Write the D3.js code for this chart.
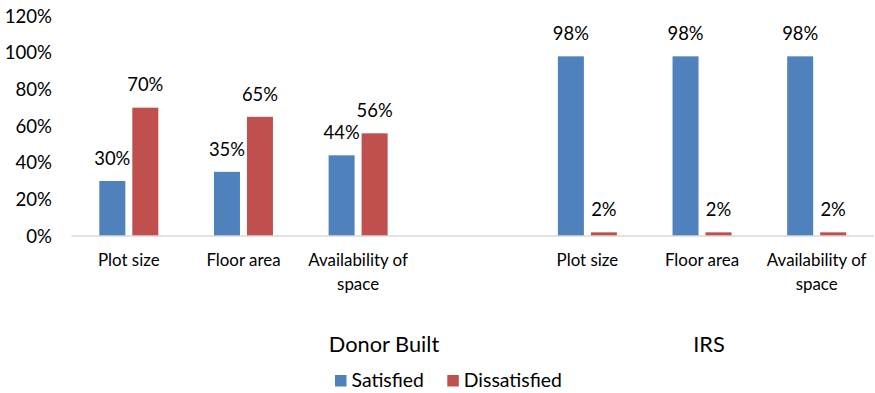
<!DOCTYPE html>
<html>
<head>
<meta charset="utf-8">
<script src="https://cdn.jsdelivr.net/npm/d3@7"></script>
<style>
  html, body { margin: 0; padding: 0; background: #fff; }
  svg { display: block; font-family: Lato, "Liberation Sans", Arial, sans-serif; }
</style>
</head>
<body>
<svg id="chart" width="875" height="393"></svg>
<script>
// Category slots along the x axis (an empty slot separates the two groups)
const categories = ["db-plot", "db-floor", "db-space", "gap", "irs-plot", "irs-floor", "irs-space"];
const categoryLabels = [["Plot size"], ["Floor area"], ["Availability of", "space"], [], ["Plot size"], ["Floor area"], ["Availability of", "space"]];
const groups = ["Donor Built", "IRS"];
const seriesNames = ["Satisfied", "Dissatisfied"];
const seriesColors = ["#4F81BD", "#C0504D"];
const satisfied = [30, 35, 44, null, 98, 98, 98];
const dissatisfied = [70, 65, 56, null, 2, 2, 2];
const yTicks = [0, 20, 40, 60, 80, 100, 120];

const svg = d3.select("#chart");

const x = d3.scaleBand().domain(categories).range([71.5, 874]);
const inner = d3.scaleBand().domain(seriesNames).range([0, x.bandwidth()])
  .paddingInner(0.212).paddingOuter(0.843);
const y = d3.scaleLinear().domain([0, 120]).range([236, 16]);

// y axis tick labels
svg.append("g").selectAll("text").data(yTicks).join("text")
  .attr("x", 52).attr("y", d => y(d)).attr("dy", "0.36em")
  .attr("text-anchor", "end").attr("font-size", 18.6).attr("fill", "#000")
  .text(d => d + "%");

// bars + value labels
const series = [satisfied, dissatisfied];
series.forEach((vals, si) => {
  const pts = categories.map((c, i) => ({ c, v: vals[i] })).filter(d => d.v != null);
  const g = svg.append("g");
  g.selectAll("rect").data(pts).join("rect")
    .attr("x", d => x(d.c) + inner(seriesNames[si]))
    .attr("width", inner.bandwidth())
    .attr("y", d => y(d.v))
    .attr("height", d => y(0) - y(d.v))
    .attr("fill", seriesColors[si]);
  g.selectAll("text").data(pts).join("text")
    .attr("x", d => x(d.c) + inner(seriesNames[si]) + inner.bandwidth() / 2)
    .attr("y", d => y(d.v) - 16.3)
    .attr("text-anchor", "middle").attr("font-size", 18.4).attr("fill", "#000")
    .text(d => d.v + "%");
});

// category axis baseline
svg.append("line")
  .attr("x1", x.range()[0]).attr("x2", x.range()[1])
  .attr("y1", y(0)).attr("y2", y(0))
  .attr("stroke", "#d9d9d9").attr("stroke-width", 1.5);

// category labels (may wrap onto two lines)
const catG = svg.append("g");
categories.forEach((c, i) => {
  const t = catG.append("text")
    .attr("x", x(c) + x.bandwidth() / 2).attr("y", 266)
    .attr("text-anchor", "middle").attr("font-size", 16.9).attr("fill", "#000");
  categoryLabels[i].forEach((line, li) => {
    t.append("tspan").attr("x", x(c) + x.bandwidth() / 2).attr("dy", li === 0 ? 0 : 23.5).text(line);
  });
});

// group labels
const groupX = [384, 709];
svg.append("g").selectAll("text").data(groups).join("text")
  .attr("x", (d, i) => groupX[i]).attr("y", 351.5)
  .attr("text-anchor", "middle").attr("font-size", 21.8).attr("fill", "#000")
  .text(d => d);

// legend
const legendX = [335, 447.3];
const lg = svg.append("g").selectAll("g").data(seriesNames).join("g")
  .attr("transform", (d, i) => `translate(${legendX[i]},375)`);
lg.append("rect").attr("width", 11.5).attr("height", 11.5)
  .attr("fill", (d, i) => seriesColors[i]);
lg.append("text").attr("x", 16.5).attr("y", 11.8)
  .attr("font-size", 19.4).attr("fill", "#000").text(d => d);
</script>
</body>
</html>
